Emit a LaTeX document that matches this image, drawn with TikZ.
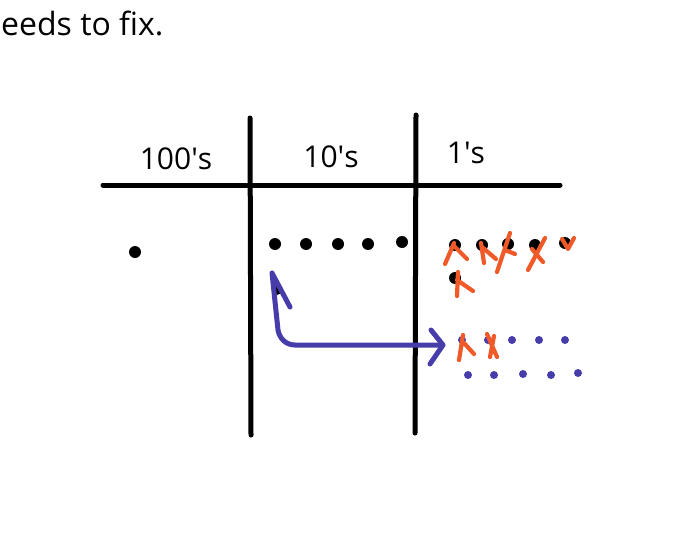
\documentclass[tikz,border=0pt]{standalone}
\usepackage{fontspec}
\setmainfont{Open Sans}
\usetikzlibrary{arrows.meta}
\definecolor{xorange}{RGB}{240,90,40}
\definecolor{tradeblue}{RGB}{70,60,170}
\begin{document}
\begin{tikzpicture}[x=1pt,y=-1pt,
  rule/.style={line width=5pt,line cap=round,black},
  bdot/.style={circle,fill=black,inner sep=0pt,minimum size=12pt},
  udot/.style={circle,fill=tradeblue,inner sep=0pt,minimum size=8pt},
  xmark/.style={line width=4.2pt,line cap=round,line join=round,draw=xorange},
  trade/.style={line width=5pt,line cap=round,line join=round,draw=tradeblue},
  lbl/.style={font=\fontsize{30}{32}\selectfont,inner sep=0pt}]
\useasboundingbox[fill=white] (0,0) rectangle (674,535);
% heading
\node[anchor=base west,inner sep=0pt,font=\fontsize{32}{36}\selectfont] (head) at (1,36) {eeds to fix.};
% chart lines
\coordinate (hl) at (103,185); \coordinate (hr) at (560,185);
\coordinate (v1t) at (250,118); \coordinate (v1b) at (251,435);
\coordinate (v2t) at (416,115); \coordinate (v2b) at (415,433);
\draw[rule] (hl) -- (hr);
\draw[rule] (v1t) -- (v1b);
\draw[rule] (v2t) -- (v2b);
% labels
\node[lbl] (h100) at (176,159) {100\textquotesingle s};
\node[lbl] (h10) at (331,157) {10\textquotesingle s};
\node[lbl] (h1) at (466,153) {1\textquotesingle s};
% hundreds
\node[bdot] (d100) at (135,252) {};
% tens
\node[bdot] (t1) at (275,244) {};
\node[bdot] (t2) at (306,244) {};
\node[bdot] (t3) at (338,244) {};
\node[bdot] (t4) at (368,244) {};
\node[bdot] (t5) at (402,242) {};
\node[bdot,minimum size=10pt] (t6) at (277,290) {};
% ones (crossed)
\node[bdot] (o1) at (455,245) {};
\node[bdot] (o2) at (482,245) {};
\node[bdot] (o3) at (508,244) {};
\node[bdot] (o4) at (535,245) {};
\node[bdot] (o5) at (565,243) {};
\node[bdot] (o6) at (455,278) {};
\draw[xmark] (454,243) -- (445,264) (454,246) -- (467,259);
\draw[xmark] (481,243) -- (484,263) (482,247) -- (496,259);
\draw[xmark] (510,233) -- (497,272) (505,250) -- (515,254);
\draw[xmark] (545,238) -- (528,270) (532,249) -- (543,262);
\draw[xmark] (562,239) -- (568,249) -- (574,238);
\draw[xmark] (458,272) -- (457,296) (457,280) -- (473,291);
% ten traded for ones
\coordinate (hook) at (290,307);
\coordinate (top) at (272,273);
\coordinate (corner) at (280,343);
\coordinate (tip) at (443,345);
\draw[trade] (hook) -- (top) -- (278,330) to[out=-80,in=180] (295,345) -- (tip);
\draw[trade] (431,330) -- (tip) -- (430,364);
% new ones
\node[udot] (u1) at (462,340) {};
\node[udot] (u2) at (488,340) {};
\node[udot] (u3) at (512,340) {};
\node[udot] (u4) at (539,340) {};
\node[udot] (u5) at (565,340) {};
\node[udot] (u6) at (468,375) {};
\node[udot] (u7) at (494,375) {};
\node[udot] (u8) at (523,374) {};
\node[udot] (u9) at (551,375) {};
\node[udot] (u10) at (578,373) {};
\draw[xmark] (463,335) -- (459,360) (464,343) -- (474,354);
\draw[xmark] (487,334) -- (497,357) (494,336) -- (490,357);
\end{tikzpicture}
\end{document}
